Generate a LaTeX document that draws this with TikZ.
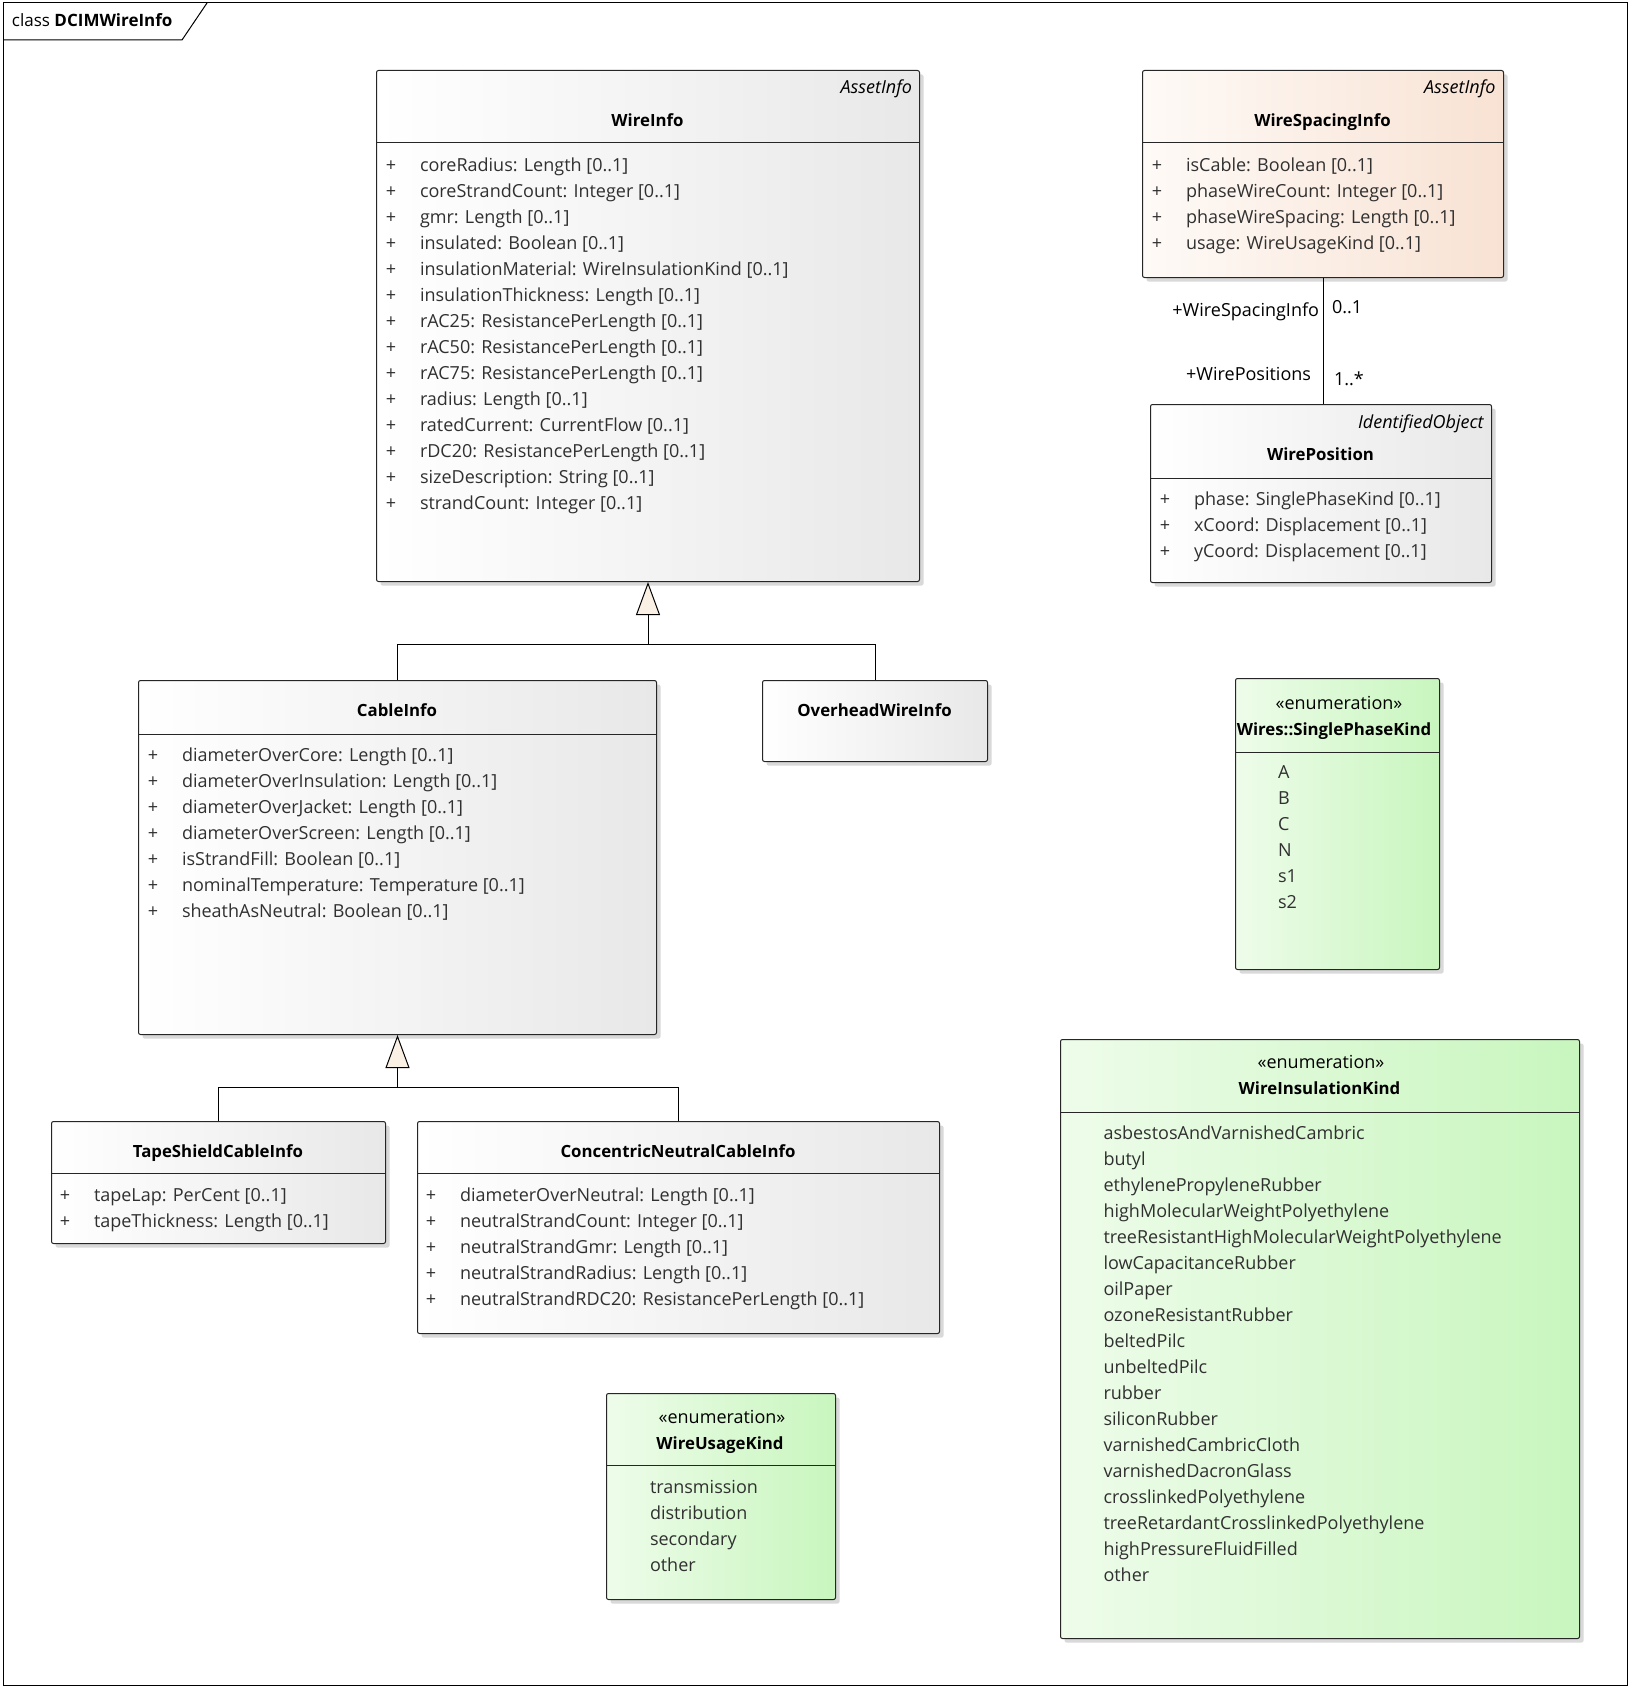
\documentclass[tikz,border=0pt]{standalone}
\usepackage{fontspec}
\setmainfont{Open Sans}
\usetikzlibrary{arrows.meta,shadows}
\definecolor{clsL}{HTML}{FFFFFF}
\definecolor{clsR}{HTML}{E8E8E8}
\definecolor{peaL}{HTML}{FEFAF7}
\definecolor{peaR}{HTML}{F8E2D3}
\definecolor{grnL}{HTML}{EEFCEA}
\definecolor{grnR}{HTML}{C8F6BE}
\definecolor{trifill}{HTML}{FAF1E4}
\definecolor{attrcol}{HTML}{303030}
\definecolor{shadowcol}{HTML}{D9D9D9}
\newcommand{\attrfont}{\fontsize{18}{22}\selectfont}
\newcommand{\titlefont}{\fontsize{16.8}{20}\selectfont\bfseries}
\newcommand{\attrlist}[5]{%
  \foreach \t [count=\i] in {#5} {%
    \node[txt,anchor=base] (#1p\i) at (#2,{#4+26*(\i-1)}) {+};
    \node[txt,anchor=base west] (#1a\i) at (#3,{#4+26*(\i-1)}) {\t};
  }}
\newcommand{\litlist}[4]{%
  \foreach \t [count=\i] in {#4} {%
    \node[txt,anchor=base west] (#1l\i) at (#2,{#3+26*(\i-1)}) {\t};
  }}
\tikzset{
  box/.style={draw=black!85, line width=1pt, rounded corners=2pt, inner sep=0pt,
    anchor=north west,
    drop shadow={shadow xshift=4pt, shadow yshift=-4pt, fill=shadowcol, opacity=1}},
  clsbox/.style={box, left color=clsL, right color=clsR},
  peabox/.style={box, left color=peaL, right color=peaR},
  grnbox/.style={box, left color=grnL, right color=grnR},
  txt/.style={inner sep=0pt, outer sep=0pt, font=\attrfont, text=attrcol},
  ttl/.style={inner sep=0pt, outer sep=0pt, font=\titlefont, text=black, anchor=base},
  stereo/.style={inner sep=0pt, outer sep=0pt, font=\attrfont, text=black, anchor=base},
  parentlbl/.style={inner sep=0pt, outer sep=0pt, font=\attrfont\itshape, text=black, anchor=base east},
  sepline/.style={draw=black!85, line width=1pt},
  conn/.style={draw=black, line width=1pt},
  genline/.style={conn, -{Triangle[width=24pt,length=33pt,fill=trifill]}},
}
\begin{document}
\begin{tikzpicture}[x=1pt,y=-1pt]
\useasboundingbox (0,0) rectangle (1630,1688);
% frame
\draw[line width=1pt] (3,3) rectangle (1627,1685);
\draw[line width=1pt] (3,40) -- (182,40) -- (207,3);
\node[inner sep=0pt, outer sep=0pt, font=\fontsize{17}{20}\selectfont, text=black, anchor=base west] (framelbl) at (12,27) {class \textbf{DCIMWireInfo}};

% ---- WireInfo
\node[clsbox, minimum width=543pt, minimum height=511pt] (wireinfo) at (376,70) {};
\draw[sepline] (376,143) -- (919,143);
\node[parentlbl] (wiparent) at (912,94) {AssetInfo};
\node[ttl] (wititle) at (647.5,126.5) {WireInfo};
\attrlist{wi}{391}{420}{171.5}{{coreRadius: Length [0..1]},{coreStrandCount: Integer [0..1]},{gmr: Length [0..1]},{insulated: Boolean [0..1]},{insulationMaterial: WireInsulationKind [0..1]},{insulationThickness: Length [0..1]},{rAC25: ResistancePerLength [0..1]},{rAC50: ResistancePerLength [0..1]},{rAC75: ResistancePerLength [0..1]},{radius: Length [0..1]},{ratedCurrent: CurrentFlow [0..1]},{rDC20: ResistancePerLength [0..1]},{sizeDescription: String [0..1]},{strandCount: Integer [0..1]}}

% ---- WireSpacingInfo
\node[peabox, minimum width=361pt, minimum height=207pt] (wsi) at (1142,70) {};
\draw[sepline] (1142,143) -- (1503,143);
\node[parentlbl] (wsiparent) at (1495.5,94) {AssetInfo};
\node[ttl] (wsititle) at (1322.5,126.5) {WireSpacingInfo};
\attrlist{wsi}{1157}{1186}{171.5}{{isCable: Boolean [0..1]},{phaseWireCount: Integer [0..1]},{phaseWireSpacing: Length [0..1]},{usage: WireUsageKind [0..1]}}

% ---- WirePosition
\node[clsbox, minimum width=341pt, minimum height=178pt] (wpos) at (1150,404) {};
\draw[sepline] (1150,478) -- (1491,478);
\node[parentlbl] (wposparent) at (1483.6,428) {IdentifiedObject};
\node[ttl] (wpostitle) at (1320.5,460) {WirePosition};
\attrlist{wpos}{1165}{1194}{505.3}{{phase: SinglePhaseKind [0..1]},{xCoord: Displacement [0..1]},{yCoord: Displacement [0..1]}}

% association
\draw[conn] (wsi.south) -- (wsi.south |- wpos.north);
\node[txt, text=black, anchor=base east] (roleA) at (1319,316.5) {+WireSpacingInfo};
\node[txt, text=black, anchor=base west] (multA) at (1332,313) {0..1};
\node[txt, text=black, anchor=base east] (roleB) at (1311,380.5) {+WirePositions};
\node[txt, text=black, anchor=base west] (multB) at (1334,385) {1..*};

% ---- CableInfo
\node[clsbox, minimum width=518pt, minimum height=354pt] (cable) at (138,680) {};
\draw[sepline] (138,734) -- (656,734);
\node[ttl] (cabletitle) at (397,716.6) {CableInfo};
\attrlist{cab}{153}{182}{761.5}{{diameterOverCore: Length [0..1]},{diameterOverInsulation: Length [0..1]},{diameterOverJacket: Length [0..1]},{diameterOverScreen: Length [0..1]},{isStrandFill: Boolean [0..1]},{nominalTemperature: Temperature [0..1]},{sheathAsNeutral: Boolean [0..1]}}

% ---- OverheadWireInfo
\node[clsbox, minimum width=225pt, minimum height=81pt] (ohw) at (762,680) {};
\node[ttl] (ohwtitle) at (874.5,716.6) {OverheadWireInfo};

% generalization 1
\coordinate (h1) at (0,644);
\draw[genline] (cable.north) |- (wireinfo.south |- h1) -- (wireinfo.south);
\draw[conn] (ohw.north) |- (wireinfo.south |- h1);

% ---- TapeShieldCableInfo
\node[clsbox, minimum width=334pt, minimum height=122pt] (tape) at (51,1121) {};
\draw[sepline] (51,1173.5) -- (385,1173.5);
\node[ttl] (tapetitle) at (218,1157) {TapeShieldCableInfo};
\attrlist{tape}{65}{94}{1201.8}{{tapeLap: PerCent [0..1]},{tapeThickness: Length [0..1]}}

% ---- ConcentricNeutralCableInfo
\node[clsbox, minimum width=522pt, minimum height=212pt] (cnc) at (417,1121) {};
\draw[sepline] (417,1173.5) -- (939,1173.5);
\node[ttl] (cnctitle) at (678,1157) {ConcentricNeutralCableInfo};
\attrlist{cnc}{431}{460}{1201.8}{{diameterOverNeutral: Length [0..1]},{neutralStrandCount: Integer [0..1]},{neutralStrandGmr: Length [0..1]},{neutralStrandRadius: Length [0..1]},{neutralStrandRDC20: ResistancePerLength [0..1]}}

% generalization 2
\coordinate (h2) at (0,1087);
\draw[genline] (tape.north) |- (cable.south |- h2) -- (cable.south);
\draw[conn] (cnc.north) |- (cable.south |- h2);

% ---- WireUsageKind
\node[grnbox, minimum width=229pt, minimum height=206pt] (usage) at (606,1393) {};
\draw[sepline] (606,1465) -- (835,1465);
\node[stereo] (usagest) at (722,1423) {«enumeration»};
\node[ttl] (usagetitle) at (720,1449) {WireUsageKind};
\litlist{usage}{650}{1493.8}{transmission,distribution,secondary,other}

% ---- SinglePhaseKind
\node[grnbox, minimum width=204pt, minimum height=291pt] (spk) at (1235,678) {};
\draw[sepline] (1235,752.5) -- (1439,752.5);
\node[stereo] (spkst) at (1339,709) {«enumeration»};
\node[ttl] (spktitle) at (1334,735) {Wires::SinglePhaseKind};
\litlist{spk}{1278}{778.8}{A,B,C,N,s1,s2}

% ---- WireInsulationKind
\node[grnbox, minimum width=519pt, minimum height=599pt] (insul) at (1060,1039) {};
\draw[sepline] (1060,1112) -- (1579,1112);
\node[stereo] (insulst) at (1321,1068.6) {«enumeration»};
\node[ttl] (insultitle) at (1319.5,1094.5) {WireInsulationKind};
\litlist{ins}{1103.5}{1139.4}{asbestosAndVarnishedCambric,butyl,ethylenePropyleneRubber,highMolecularWeightPolyethylene,treeResistantHighMolecularWeightPolyethylene,lowCapacitanceRubber,oilPaper,ozoneResistantRubber,beltedPilc,unbeltedPilc,rubber,siliconRubber,varnishedCambricCloth,varnishedDacronGlass,crosslinkedPolyethylene,treeRetardantCrosslinkedPolyethylene,highPressureFluidFilled,other}
\end{tikzpicture}
\end{document}
